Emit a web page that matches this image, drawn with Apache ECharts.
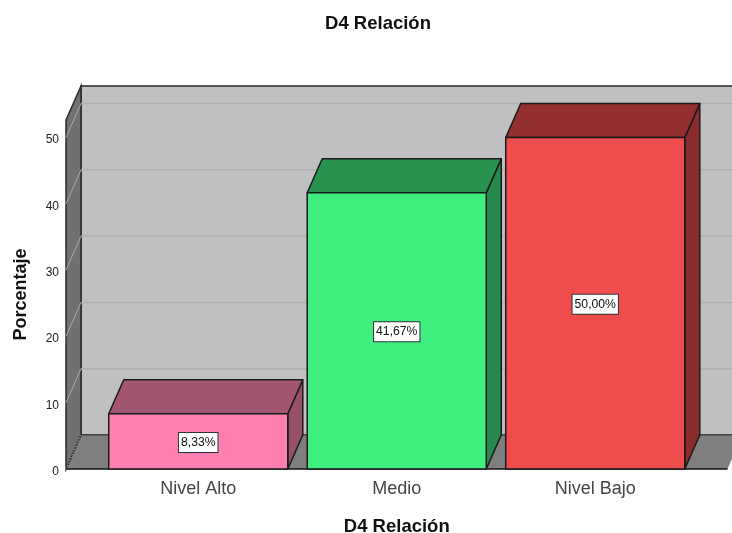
<!DOCTYPE html>
<html><head><meta charset="utf-8">
<style>html,body{margin:0;padding:0;background:#fff}#c{width:732px;height:533px}</style>
<script src="https://cdn.jsdelivr.net/npm/echarts@6/dist/echarts.min.js"></script>
</head><body><div id="c"></div>
<script>
const categories = ['Nivel Alto', 'Medio', 'Nivel Bajo'];
const percentages = [8.33, 41.67, 50.00];
const yTicks = [10, 20, 30, 40, 50];
const frontColors = ['#ff80b0', '#40ee80', '#ef4c4c'];
const topColors = ['#a35672', '#27934f', '#953030'];
const sideColors = ['#96506a', '#258a4b', '#8a2c2c'];

const DX = 15, DY = -34, SIDE_PAD = 33, INK = '#1a1a1a';
const FONT = '"Liberation Sans", Arial, sans-serif';
const chart = echarts.init(document.getElementById('c'), null, {renderer: 'canvas'});

function renderWalls(params, api) {
  const g = params.coordSys;
  const x0 = g.x - SIDE_PAD, x1 = g.x + g.width + SIDE_PAD;
  const yB = g.y + g.height, yT = g.y;
  const children = [
    {type: 'polygon', shape: {points: [[x0 + DX, yT + DY], [x1 + DX, yT + DY], [x1 + DX, yB + DY], [x0 + DX, yB + DY]]},
      style: {fill: '#c0c0c0', stroke: '#2a2a2a', lineWidth: 1.5}},
    {type: 'polygon', shape: {points: [[x0, yB], [x0 + DX, yB + DY], [x1 + DX, yB + DY], [x1, yB]]},
      style: {fill: '#7f7f7f', stroke: null}},
    {type: 'polygon', shape: {points: [[x0, yT], [x0 + DX, yT + DY], [x0 + DX, yB + DY], [x0, yB]]},
      style: {fill: '#707070', stroke: '#2a2a2a', lineWidth: 1.5}},
    {type: 'line', shape: {x1: x0, y1: yB, x2: x0 + DX, y2: yB + DY},
      style: {stroke: '#cfcfcf', lineWidth: 1, lineDash: [1, 2]}},
    {type: 'line', shape: {x1: x0 + DX, y1: yB + DY, x2: x1 + DX, y2: yB + DY},
      style: {stroke: '#3a3a3a', lineWidth: 1}},
    {type: 'line', shape: {x1: x0, y1: yB, x2: x1, y2: yB},
      style: {stroke: '#111', lineWidth: 1.5}}
  ];
  yTicks.forEach(function (t) {
    const y = api.coord([0, t])[1];
    children.push({type: 'line', shape: {x1: x0 + DX, y1: y + DY, x2: x1 + DX, y2: y + DY},
      style: {stroke: '#b0b0b0', lineWidth: 1.5}});
    children.push({type: 'line', shape: {x1: x0, y1: y, x2: x0 + DX, y2: y + DY},
      style: {stroke: '#a8a8a8', lineWidth: 1}});
  });
  return {type: 'group', children: children};
}

function renderBar(params, api) {
  const i = params.dataIndex;
  const top = api.coord([api.value(0), api.value(1)]);
  const base = api.coord([api.value(0), 0]);
  const w = api.size([1, 0])[0] * 0.902;
  const l = top[0] - w / 2, r = top[0] + w / 2, t = top[1], b = base[1];
  const edge = {stroke: INK, lineWidth: 1.5, lineJoin: 'round'};
  return {type: 'group', children: [
    {type: 'polygon', shape: {points: [[r, t], [r + DX, t + DY], [r + DX, b + DY], [r, b]]},
      style: Object.assign({fill: sideColors[i]}, edge)},
    {type: 'polygon', shape: {points: [[l, t], [l + DX, t + DY], [r + DX, t + DY], [r, t]]},
      style: Object.assign({fill: topColors[i]}, edge)},
    {type: 'rect', shape: {x: l, y: t, width: w, height: b - t},
      style: Object.assign({fill: frontColors[i]}, edge)},
    {type: 'text', x: top[0], y: (t + b) / 2 + 1, style: {
      text: api.value(1).toFixed(2).replace('.', ',') + '%',
      align: 'center', verticalAlign: 'middle',
      font: '12.2px ' + FONT, fill: '#111', backgroundColor: '#fff',
      borderColor: '#2a3434', borderWidth: 1, padding: [4, 2, 3, 2]}}
  ]};
}

chart.setOption({
  animation: false,
  backgroundColor: '#ffffff',
  title: {text: 'D4 Relación', left: 373, top: 9, textAlign: 'center',
    textStyle: {fontFamily: FONT, fontSize: 18.5, fontWeight: 'bold', color: '#111'}},
  grid: {left: 99, right: 37.5, top: 120, bottom: 64, containLabel: false, outerBoundsMode: 'none'},
  xAxis: {type: 'category', data: categories,
    axisLine: {show: false}, axisTick: {show: false}, splitLine: {show: false},
    axisLabel: {fontFamily: FONT, fontSize: 18, color: '#444', margin: 11},
    name: 'D4 Relación', nameLocation: 'middle', nameGap: 48,
    nameTextStyle: {fontFamily: FONT, fontSize: 18.5, fontWeight: 'bold', color: '#111'}},
  yAxis: {type: 'value', min: 0, max: 52.64, interval: 10, offset: 33,
    axisLine: {show: false}, axisTick: {show: false}, splitLine: {show: false},
    axisLabel: {fontFamily: FONT, fontSize: 12, color: '#222', margin: 7, verticalAlign: 'top', lineHeight: 5, showMaxLabel: false},
    name: 'Porcentaje', nameLocation: 'middle', nameGap: 36, nameRotate: 90,
    nameTextStyle: {fontFamily: FONT, fontSize: 18, fontWeight: 'bold', color: '#111'}},
  series: [
    {type: 'custom', z: 1, silent: true, clip: false, renderItem: renderWalls, data: [[0, 0]], encode: {x: 0, y: 1}},
    {type: 'custom', z: 2, clip: false, renderItem: renderBar,
      data: categories.map(function (c, i) { return [i, percentages[i]]; }), encode: {x: 0, y: 1}}
  ]
});
</script></body></html>
